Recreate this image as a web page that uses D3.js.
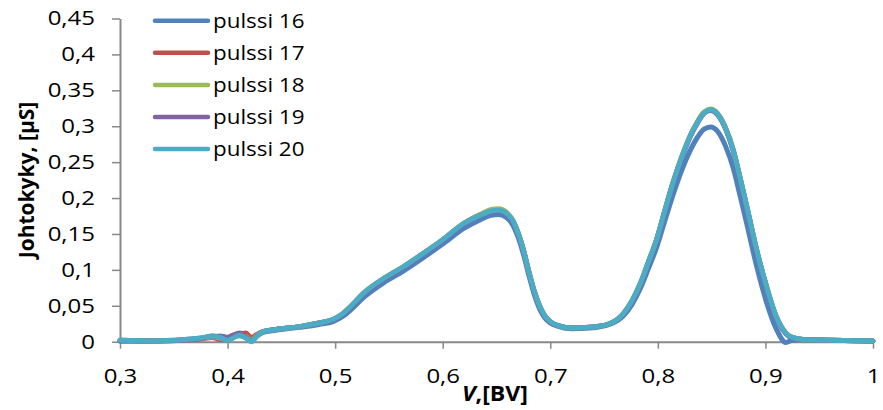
<!DOCTYPE html>
<html>
<head>
<meta charset="utf-8">
<script src="https://cdn.jsdelivr.net/npm/d3@7"></script>
<style>
  body { margin: 0; background: #fff; }
  svg { display: block; font-family: 'Open Sans', sans-serif; }
</style>
</head>
<body>
<div class="chart"></div>
<script>
// V axis points (BV)
const voltage = [0.30,0.33,0.36,0.375,0.386,0.393,0.40,0.405,0.411,0.417,0.422,0.427,0.433,0.445,0.467,0.485,0.498,
  0.507,0.515,0.526,0.545,0.563,0.582,0.60,0.62,0.635,0.645,0.652,0.66,0.665,0.67,0.675,0.68,0.685,0.69,0.695,0.70,
  0.708,0.72,0.737,0.755,0.768,0.776,0.784,0.791,0.799,0.806,0.814,0.822,0.83,0.837,0.843,0.849,0.856,0.863,0.87,
  0.876,0.883,0.892,0.901,0.91,0.919,0.925,0.935,0.96,1.0];

const pulssi16 = [0.001,0.001,0.003,0.005,0.007,0.008,0.006,0.009,0.012,0.010,0.004,0.008,0.013,0.016,0.020,0.024,0.028,
  0.035,0.045,0.061,0.082,0.098,0.117,0.136,0.158,0.170,0.176,0.177,0.172,0.163,0.146,0.122,0.093,0.066,0.046,0.033,0.026,
  0.021,0.018,0.019,0.024,0.036,0.052,0.075,0.101,0.132,0.166,0.204,0.238,0.266,0.285,0.296,0.299,0.292,0.272,0.242,
  0.206,0.162,0.104,0.055,0.018,-0.001,0.002,0.003,0.002,0.001];
const pulssi17 = [0.002,0.001,0.002,0.004,0.006,0.003,0.005,0.008,0.009,0.012,0.006,0.010,0.014,0.017,0.021,0.026,0.031,
  0.039,0.050,0.067,0.088,0.104,0.123,0.142,0.165,0.177,0.183,0.184,0.178,0.169,0.152,0.128,0.098,0.071,0.050,0.036,0.028,
  0.022,0.019,0.020,0.025,0.039,0.057,0.082,0.110,0.143,0.180,0.221,0.256,0.286,0.306,0.319,0.323,0.316,0.297,0.267,
  0.231,0.186,0.127,0.077,0.035,0.012,0.006,0.003,0.002,0.001];
const pulssi18 = [0.002,0.001,0.002,0.004,0.007,0.005,0.004,0.007,0.008,0.007,0.002,0.009,0.014,0.017,0.021,0.026,0.031,
  0.039,0.050,0.067,0.088,0.104,0.123,0.142,0.165,0.177,0.184,0.185,0.179,0.169,0.152,0.128,0.098,0.071,0.050,0.036,0.028,
  0.022,0.019,0.020,0.025,0.039,0.057,0.082,0.110,0.143,0.180,0.221,0.257,0.287,0.307,0.320,0.324,0.317,0.298,0.268,
  0.231,0.186,0.127,0.077,0.035,0.012,0.006,0.003,0.002,0.001];
const pulssi19 = [0.001,0.001,0.002,0.004,0.008,0.007,0.006,0.009,0.011,0.006,0.001,0.008,0.014,0.017,0.021,0.026,0.030,
  0.038,0.049,0.066,0.087,0.103,0.122,0.141,0.164,0.176,0.181,0.182,0.177,0.168,0.151,0.127,0.097,0.070,0.049,0.035,0.027,
  0.022,0.019,0.020,0.025,0.038,0.056,0.081,0.109,0.142,0.179,0.220,0.255,0.285,0.305,0.318,0.322,0.315,0.296,0.266,
  0.230,0.185,0.126,0.076,0.034,0.011,0.005,0.003,0.002,0.001];
const pulssi20 = [0.002,0.001,0.003,0.005,0.008,0.006,0.002,0.005,0.009,0.005,0.000,0.007,0.014,0.017,0.021,0.026,0.031,
  0.039,0.050,0.067,0.088,0.104,0.123,0.142,0.165,0.176,0.182,0.183,0.178,0.169,0.152,0.128,0.098,0.071,0.050,0.036,0.028,
  0.022,0.019,0.020,0.025,0.039,0.057,0.082,0.110,0.143,0.180,0.221,0.256,0.286,0.306,0.318,0.323,0.316,0.297,0.267,
  0.231,0.186,0.127,0.077,0.035,0.012,0.006,0.003,0.002,0.001];

const seriesNames = ['pulssi 16', 'pulssi 17', 'pulssi 18', 'pulssi 19', 'pulssi 20'];
const seriesValues = [pulssi16, pulssi17, pulssi18, pulssi19, pulssi20];
const colors = ['#4f81bd', '#c0504d', '#9bbb59', '#8064a2', '#4bacc6'];

const xTicks = [0.3, 0.4, 0.5, 0.6, 0.7, 0.8, 0.9, 1.0];
const xTickLabels = ['0,3', '0,4', '0,5', '0,6', '0,7', '0,8', '0,9', '1'];
const yTicks = [0, 0.05, 0.1, 0.15, 0.2, 0.25, 0.3, 0.35, 0.4, 0.45];
const yTickLabels = ['0', '0,05', '0,1', '0,15', '0,2', '0,25', '0,3', '0,35', '0,4', '0,45'];

const width = 883, height = 410;
const margin = {top: 18.5, right: 10, bottom: 68.3, left: 120};
const stretch = 1.2; // labels in the original are horizontally wide

const svg = d3.select('.chart')
  .append('svg')
  .attr('width', width)
  .attr('height', height);

const x = d3.scaleLinear().domain([0.3, 1]).range([margin.left, width - margin.right]);
const y = d3.scaleLinear().domain([0, 0.45]).range([height - margin.bottom, margin.top]);

const axisColor = '#888';

const yAxis = svg.append('g')
  .attr('transform', `translate(${margin.left},0)`)
  .call(d3.axisLeft(y).tickValues(yTicks).tickSize(8).tickSizeOuter(0)
    .tickFormat((d, i) => yTickLabels[i]));

const xAxis = svg.append('g')
  .attr('transform', `translate(0,${height - margin.bottom})`)
  .call(d3.axisBottom(x).tickValues(xTicks).tickSize(7).tickSizeOuter(0)
    .tickFormat((d, i) => xTickLabels[i]));

[xAxis, yAxis].forEach(g => {
  g.select('.domain').attr('stroke', axisColor).attr('stroke-width', 2);
  g.selectAll('.tick line').attr('stroke', axisColor).attr('stroke-width', 1.5);
  g.selectAll('.tick text').attr('fill', '#000').style('font-size', '20px')
    .style('font-family', "'Open Sans', sans-serif")
    .attr('transform', `scale(${stretch},1)`);
});
yAxis.selectAll('.tick text').attr('x', -25 / stretch);
xAxis.selectAll('.tick text').attr('y', 27);

const line = d3.line()
  .x((d, i) => x(voltage[i]))
  .y(d => y(d))
  .curve(d3.curveMonotoneX);

svg.append('g')
  .selectAll('path')
  .data(seriesValues)
  .enter()
  .append('path')
  .attr('d', d => line(d))
  .attr('fill', 'none')
  .attr('stroke', (d, i) => colors[i])
  .attr('stroke-width', 5)
  .attr('stroke-linejoin', 'round')
  .attr('stroke-linecap', 'round');

// axis titles
svg.append('text')
  .attr('transform', 'translate(34,180) rotate(-90)')
  .attr('text-anchor', 'middle')
  .style('font-size', '21px')
  .style('font-weight', 'bold')
  .text('Johtokyky, [µS]');

const xTitle = svg.append('text')
  .attr('transform', 'translate(462,401) scale(1.1,1)')
  .style('font-size', '21px')
  .style('font-weight', 'bold');
xTitle.append('tspan').style('font-style', 'italic').text('V');
xTitle.append('tspan').text(',[BV]');

// legend
const legend = svg.append('g')
  .selectAll('g')
  .data(seriesNames)
  .enter()
  .append('g')
  .attr('transform', (d, i) => `translate(155,${20.7 + i * 32.1})`);

legend.append('line')
  .attr('x1', 0).attr('x2', 53)
  .attr('stroke', (d, i) => colors[i])
  .attr('stroke-width', 4.5)
  .attr('stroke-linecap', 'round');

legend.append('text')
  .attr('transform', 'translate(58,0) scale(1.12,1)')
  .attr('dy', '0.35em')
  .style('font-size', '20px')
  .text(d => d);
</script>
</body>
</html>
